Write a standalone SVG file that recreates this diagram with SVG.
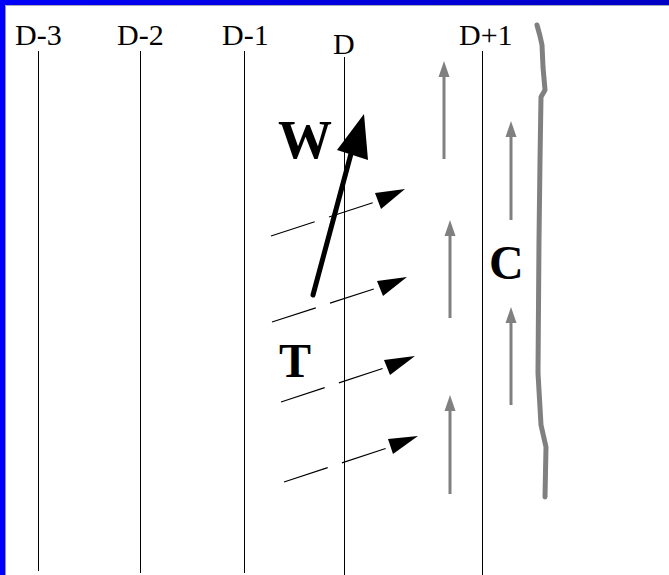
<svg xmlns="http://www.w3.org/2000/svg" width="669" height="575" viewBox="0 0 669 575">
<defs>
<linearGradient id="topg" x1="0" y1="0" x2="1" y2="0">
<stop offset="0" stop-color="#0000f8"/>
<stop offset="1" stop-color="#0000c4"/>
</linearGradient>
<marker id="grayhead" viewBox="0 0 16 16" refX="0" refY="8" markerWidth="16" markerHeight="16" markerUnits="userSpaceOnUse" orient="auto">
<path d="M0,2.5 L16,8 L0,13.5 Z" fill="#808080"/>
</marker>
</defs>
<style>
.lbl{font-family:"Liberation Serif","Times New Roman",serif;font-size:30px;fill:#000}
.big{font-family:"Liberation Serif","Times New Roman",serif;font-weight:bold;fill:#000}
.vline{stroke:#000;stroke-width:1;fill:none}
.gray{stroke:#808080;stroke-width:3;fill:none}
.dash{stroke:#000;stroke-width:1.2;fill:none;stroke-dasharray:46 15}
.head{fill:#000}
</style>
<rect x="0" y="0" width="669" height="575" fill="#fff"/>
<rect x="0" y="0" width="669" height="5" fill="url(#topg)"/>
<rect x="0" y="5" width="669" height="1" fill="#a8a8b8"/>
<rect x="0" y="0" width="5" height="575" fill="#0000ff"/>
<rect x="5" y="6" width="1" height="569" fill="#9090a0"/>

<g id="columns">
<g id="col-d3"><line class="vline" x1="38.5" y1="51" x2="38.5" y2="571"/><text class="lbl" x="15" y="45">D-3</text></g>
<g id="col-d2"><line class="vline" x1="140.5" y1="51" x2="140.5" y2="573"/><text class="lbl" x="117" y="45">D-2</text></g>
<g id="col-d1"><line class="vline" x1="244.5" y1="51" x2="244.5" y2="573"/><text class="lbl" x="222" y="45">D-1</text></g>
<g id="col-d"><line class="vline" x1="344.5" y1="57" x2="344.5" y2="575" stroke-width="1.3"/><text class="lbl" x="333" y="54">D</text></g>
<g id="col-d1p"><line class="vline" x1="482.5" y1="51" x2="482.5" y2="575"/><text class="lbl" x="459" y="45">D+1</text></g>
</g>

<g id="wall">
<path d="M537,25 L540,36 L542,45 L543,67 L545,90 L541,97 L540,160 L539,240 L538,373 L541,425 L546,447 L545,497" stroke="#808080" stroke-width="5" fill="none" stroke-linecap="round" stroke-linejoin="round"/>
</g>

<g id="label-W"><text class="big" x="278" y="158" font-size="54">W</text></g>
<g id="label-T"><text class="big" x="279" y="377" font-size="48">T</text></g>
<g id="label-C"><text class="big" x="489" y="279" font-size="48">C</text></g>

<g id="connectors">
<g id="arrow-W">
<line x1="313" y1="295" x2="352" y2="150" stroke="#000" stroke-width="5" stroke-linecap="round"/>
<polygon class="head" points="364,114 337,150 368,160"/>
</g>
<g id="arrow-t1">
<path class="dash" d="M271,236 L378,201"/>
<polygon class="head" points="405,189 375,193 381,209"/>
</g>
<g id="arrow-t2">
<path class="dash" d="M272,322 L380,287"/>
<polygon class="head" points="407,277 377,281 383,296"/>
</g>
<g id="arrow-t3">
<path class="dash" d="M281,402 L387,367"/>
<polygon class="head" points="415,356 384,360 390,375"/>
</g>
<g id="arrow-t4">
<path class="dash" d="M284,482 L390,447"/>
<polygon class="head" points="418,436 388,439 393,454"/>
</g>
<g id="arrow-c1"><line class="gray" x1="444" y1="159" x2="444" y2="77" marker-end="url(#grayhead)"/></g>
<g id="arrow-c2"><line class="gray" x1="511" y1="220" x2="511" y2="137" marker-end="url(#grayhead)"/></g>
<g id="arrow-c3"><line class="gray" x1="450" y1="318" x2="450" y2="236" marker-end="url(#grayhead)"/></g>
<g id="arrow-c4"><line class="gray" x1="511" y1="405" x2="511" y2="323" marker-end="url(#grayhead)"/></g>
<g id="arrow-c5"><line class="gray" x1="450" y1="494" x2="450" y2="411" marker-end="url(#grayhead)"/></g>
</g>
</svg>
